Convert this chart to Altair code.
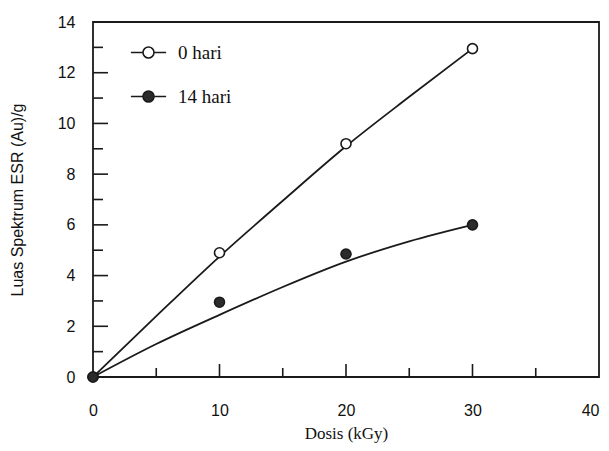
import altair as alt
import pandas as pd

# data
dose = [0, 10, 20, 30]
hari0 = [0, 4.9, 9.2, 12.95]
hari14 = [0, 2.95, 4.85, 6.0]
series_names = ["0 hari", "14 hari"]

fit_dose = [0, 5, 10, 15, 20, 25, 30]
fit0 = [0, 2.4, 4.75, 6.95, 9.1, 11.05, 12.95]
fit14 = [0, 1.3, 2.45, 3.55, 4.55, 5.35, 6.0]

x_labels = [0, 10, 20, 30, 40]
y_labels = [0, 2, 4, 6, 8, 10, 12, 14]
x_major = [10, 20, 30]
x_minor = [5, 15, 25, 35]
y_major = [2, 4, 6, 8, 10, 12]
y_minor = [1, 3, 5, 7, 9, 11, 13]

pts = pd.DataFrame({
    "dose": dose + dose,
    "val": hari0 + hari14,
    "series": [series_names[0]] * len(dose) + [series_names[1]] * len(dose),
})
fits = pd.DataFrame({
    "dose": fit_dose + fit_dose,
    "val": fit0 + fit14,
    "series": [series_names[0]] * len(fit_dose) + [series_names[1]] * len(fit_dose),
})

W, H = 506, 355
INK = "#1a1a1a"
xs = alt.Scale(domain=[0, 40], nice=False, zero=False)
ys = alt.Scale(domain=[0, 14], nice=False, zero=False)

xaxis = alt.Axis(values=x_labels, ticks=False, domain=False, grid=False,
                 labelFont="Liberation Sans", labelFontSize=16, labelColor="#111",
                 labelPadding=25, labelFlush=False,
                 labelAlign=alt.ExprRef(expr="datum.value == 40 ? 'right' : 'center'"),
                 title="Dosis (kGy)", titleFont="Liberation Serif", titleFontSize=17,
                 titleFontWeight="normal", titleColor="#111", titleY=56,
                 titleBaseline="middle")
yaxis = alt.Axis(values=y_labels, ticks=False, domain=False, grid=False,
                 labelFont="Liberation Sans", labelFontSize=16, labelColor="#111",
                 labelPadding=18, labelFlush=False,
                 title="Luas Spektrum ESR (Au)/g", titleFont="Liberation Sans",
                 titleFontSize=16, titleFontWeight="normal", titleColor="#111",
                 titleX=-84, titleAngle=270, titleBaseline="top")

base_x = alt.X("dose:Q", scale=xs, axis=xaxis)
base_y = alt.Y("val:Q", scale=ys, axis=yaxis)

lines = alt.Chart(fits).mark_line(color=INK, strokeWidth=1.8, interpolate="monotone").encode(
    x=base_x, y=base_y, detail="series:N")

legend_path = "M -3.2 0 L -1 0 M 1 0 L 3.2 0 M 1 0 A 1 1 0 1 1 -1 0 A 1 1 0 1 1 1 0 Z"
points = alt.Chart(pts).mark_point(filled=False, size=100, stroke=INK, strokeWidth=1.6,
                                   opacity=1, fillOpacity=1, shape="circle").encode(
    x=alt.X("dose:Q", scale=xs),
    y=alt.Y("val:Q", scale=ys),
    fill=alt.Fill("series:N",
                  scale=alt.Scale(domain=series_names, range=["white", "#2b2b2b"]),
                  legend=alt.Legend(title=None, orient="none", legendX=46, legendY=21,
                                    symbolType=legend_path, symbolSize=121,
                                    symbolStrokeColor=INK, symbolStrokeWidth=1.6,
                                    symbolOpacity=1,
                                    labelFont="Liberation Serif", labelFontSize=19,
                                    labelColor="#111", labelOffset=20, rowPadding=24,
                                    padding=0)),
    order=alt.Order("series:N"),
)

tick_df_xmaj = pd.DataFrame({"t": x_major})
tick_df_xmin = pd.DataFrame({"t": x_minor})
tick_df_ymaj = pd.DataFrame({"t": y_major})
tick_df_ymin = pd.DataFrame({"t": y_minor})

xmaj = alt.Chart(tick_df_xmaj).mark_rule(color=INK, strokeWidth=1.6).encode(
    x=alt.X("t:Q", scale=xs), y=alt.value(H), y2=alt.value(H - 13))
xmin = alt.Chart(tick_df_xmin).mark_rule(color=INK, strokeWidth=1.6).encode(
    x=alt.X("t:Q", scale=xs), y=alt.value(H), y2=alt.value(H - 9))
ymaj = alt.Chart(tick_df_ymaj).mark_rule(color=INK, strokeWidth=1.6).encode(
    y=alt.Y("t:Q", scale=ys), x=alt.value(0), x2=alt.value(15))
ymin = alt.Chart(tick_df_ymin).mark_rule(color=INK, strokeWidth=1.6).encode(
    y=alt.Y("t:Q", scale=ys), x=alt.value(0), x2=alt.value(10))

chart = alt.layer(lines, xmaj, xmin, ymaj, ymin, points).properties(
    width=W, height=H,
    autosize=alt.AutoSizeParams(type="none"),
    padding={"left": 85, "top": 14, "right": 2, "bottom": 66},
    background="white",
).configure_view(stroke=INK, strokeWidth=1.8)

chart.save("out.html", embed_options={"renderer": "svg", "actions": False})
